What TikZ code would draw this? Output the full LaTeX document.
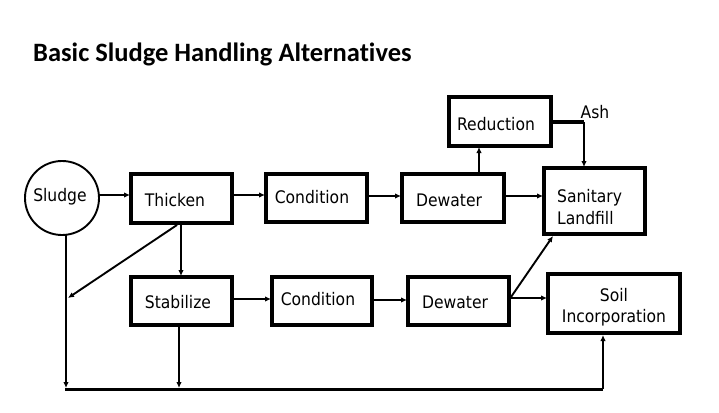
\documentclass[tikz,border=0pt]{standalone}
\usepackage{fontspec}
\setmainfont{DejaVu Sans Condensed}
\newfontfamily\titlefont[Ligatures=NoCommon]{Carlito}
\usetikzlibrary{arrows.meta}
\begin{document}
\begin{tikzpicture}[x=1pt,y=-1pt,
  box/.style={draw,line width=3.4pt,inner sep=0pt},
  lbl/.style={font=\fontsize{17.3}{22}\selectfont,inner sep=0pt,anchor=center},
  conn/.style={line width=1.9pt,-{Latex[length=6pt,width=5.5pt]}},
  line/.style={line width=1.9pt}]
\useasboundingbox (0,0) rectangle (719,412);
\node[anchor=base west,inner sep=0pt,font=\titlefont\bfseries\fontsize{26.5}{30}\selectfont] (title) at (33,62) {Basic Sludge Handling Alternatives};
% nodes
\node[draw,circle,line width=1.9pt,minimum size=74pt,inner sep=0pt] (sludge) at (62,198) {};
\node[lbl] (sludget) at (60,197) {Sludge};
\draw[box] (131,174) rectangle (232,223);
\node[lbl] (thickt) at (175,200) {Thicken};
\draw[box] (266,174) rectangle (367,222);
\node[lbl] (cond1t) at (312,197) {Condition};
\draw[box] (402,174) rectangle (504,222);
\node[lbl] (dew1t) at (449,200) {Dewater};
\draw[box] (449,97) rectangle (551,146);
\node[lbl] (redt) at (496,124) {Reduction};
\draw[box] (544,168) rectangle (645,234);
\node[lbl,align=left,anchor=west] (sant) at (557,207) {Sanitary\\Landfill};
\node[lbl] (ash) at (595,112) {Ash};
\draw[box] (131,277) rectangle (232,325);
\node[lbl] (stabt) at (178,302) {Stabilize};
\draw[box] (272,277) rectangle (372,325);
\node[lbl] (cond2t) at (318,299) {Condition};
\draw[box] (408,277) rectangle (509,325);
\node[lbl] (dew2t) at (455,302) {Dewater};
\draw[box] (548,274) rectangle (680,333);
\node[lbl,align=center,font=\fontsize{17.3}{21}\selectfont] (soilt) at (614,307) {Soil\\Incorporation};
% connectors top row
\coordinate (a1) at (100,195); \coordinate (a1e) at (130,195);
\draw[conn] (a1) -- (a1e);
\coordinate (a2) at (234,195); \coordinate (a2e) at (265,195);
\draw[conn] (a2) -- (a2e);
\coordinate (a3) at (369,196); \coordinate (a3e) at (401,196);
\draw[conn] (a3) -- (a3e);
\coordinate (a4) at (506,196); \coordinate (a4e) at (543,196);
\draw[conn] (a4) -- (a4e);
\coordinate (a5) at (479,172); \coordinate (a5e) at (479,147);
\draw[conn] (a5) -- (a5e);
\coordinate (a6) at (553,122); \coordinate (a6m) at (584,122); \coordinate (a6e) at (584,167);
\draw[line width=3.4pt] (a6) -- (a6m);
\draw[conn] (a6m) -- (a6e);
% thicken down
\coordinate (b1) at (181,225); \coordinate (b1e) at (181,276);
\draw[conn] (b1) -- (b1e);
\coordinate (b2) at (177,225); \coordinate (b2e) at (68,298);
\draw[conn] (b2) -- (b2e);
% bottom row
\coordinate (c1) at (234,299); \coordinate (c1e) at (271,299);
\draw[conn] (c1) -- (c1e);
\coordinate (c2) at (374,300); \coordinate (c2e) at (407,300);
\draw[conn] (c2) -- (c2e);
\coordinate (c3) at (511,298); \coordinate (c3e) at (547,298);
\draw[conn] (c3) -- (c3e);
\coordinate (c4) at (511,297); \coordinate (c4e) at (553,236);
\draw[conn] (c4) -- (c4e);
% bottom collector
\coordinate (d1) at (66,235); \coordinate (d1e) at (66,388);
\draw[conn] (d1) -- (d1e);
\coordinate (d2) at (179,327); \coordinate (d2e) at (179,388);
\draw[conn] (d2) -- (d2e);
\coordinate (d3) at (65,389); \coordinate (d3m) at (603,389); \coordinate (d3e) at (603,335);
\draw[line width=3pt] (d3) -- (d3m);
\draw[conn] (d3m) -- (d3e);
\end{tikzpicture}
\end{document}
